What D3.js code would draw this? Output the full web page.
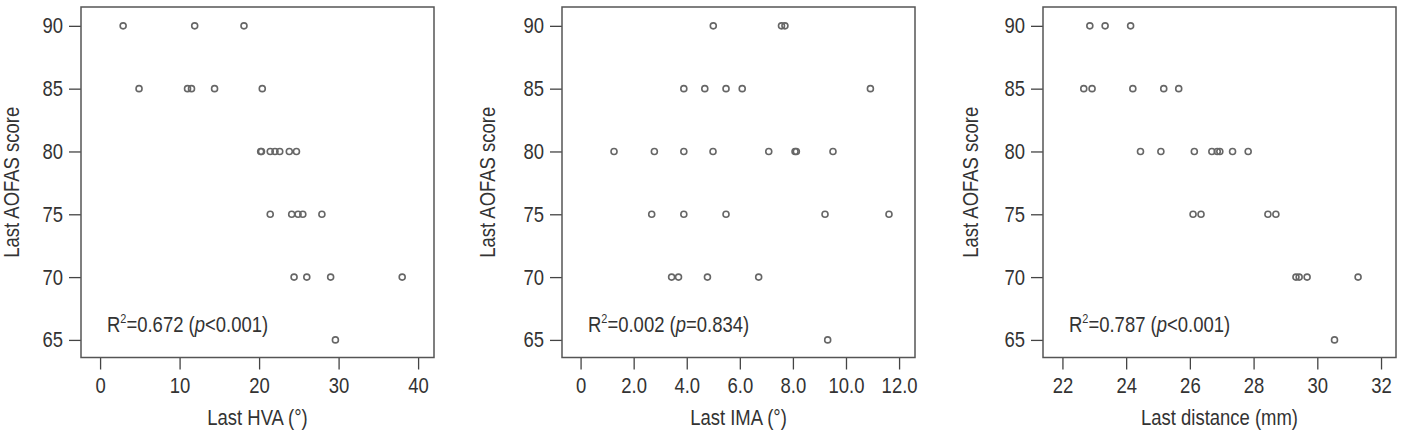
<!DOCTYPE html>
<html>
<head>
<meta charset="utf-8">
<script src="https://cdn.jsdelivr.net/npm/d3@7"></script>
<style>
  body { margin: 0; background: #fff; }
  svg text { font-family: "Liberation Sans", Arial, sans-serif; fill: #333; }
</style>
</head>
<body>
<div id="chart"></div>
<script>
// AOFAS score per point (shared y values for each panel)
const hvaX = [2.9, 11.9, 18.1, 4.9, 11.0, 11.5, 14.4, 20.4, 20.2, 20.3, 21.4, 22.0, 22.6, 23.8, 24.7,
  21.4, 24.1, 24.9, 25.5, 27.9, 24.4, 26.0, 29.0, 38.0, 29.6];
const hvaY = [90, 90, 90, 85, 85, 85, 85, 85, 80, 80, 80, 80, 80, 80, 80,
  75, 75, 75, 75, 75, 70, 70, 70, 70, 65];

const imaX = [5.0, 7.57, 7.7, 3.89, 4.68, 5.48, 6.09, 10.92, 1.26, 2.78, 3.89, 4.99, 7.09, 8.08, 8.13, 9.51,
  2.68, 3.89, 5.48, 9.21, 11.62, 3.43, 3.69, 4.78, 6.71, 9.31];
const imaY = [90, 90, 90, 85, 85, 85, 85, 85, 80, 80, 80, 80, 80, 80, 80, 80,
  75, 75, 75, 75, 75, 70, 70, 70, 70, 65];

const distX = [22.86, 23.34, 24.14, 22.67, 22.93, 24.21, 25.18, 25.65,
  24.45, 25.09, 26.14, 26.69, 26.86, 26.94, 27.34, 27.83,
  26.1, 26.35, 28.45, 28.7, 29.33, 29.43, 29.68, 31.28, 30.54];
const distY = [90, 90, 90, 85, 85, 85, 85, 85,
  80, 80, 80, 80, 80, 80, 80, 80,
  75, 75, 75, 75, 70, 70, 70, 70, 65];

const yTicks = [65, 70, 75, 80, 85, 90];
const hvaTicks = [0, 10, 20, 30, 40];
const imaTicks = [0, 2, 4, 6, 8, 10, 12];
const distTicks = [22, 24, 26, 28, 30, 32];

const xTitles = ["Last HVA (°)", "Last IMA (°)", "Last distance (mm)"];
const yTitle = "Last AOFAS score";
const r2Labels = [
  { r2: "0.672", op: "<", p: "0.001" },
  { r2: "0.002", op: "=", p: "0.834" },
  { r2: "0.787", op: "<", p: "0.001" }
];

const width = 1402, height = 430;
const sx = 0.84; // narrow the glyphs, the original uses a condensed face
const svg = d3.select("#chart").append("svg")
  .attr("width", width)
  .attr("height", height);

const panels = [
  { left: 81, titleX: -70, xs: hvaX, ys: hvaY, ticks: hvaTicks, domain: [-2.4, 42], fmt: d => d },
  { left: 562, titleX: -75, xs: imaX, ys: imaY, ticks: imaTicks, domain: [-0.7, 12.6], fmt: d => d === 0 ? "0" : d.toFixed(1) },
  { left: 1043, titleX: -73, xs: distX, ys: distY, ticks: distTicks, domain: [21.39, 32.47], fmt: d => d }
];

const plotW = 353;
const plotTop = 7, plotBottom = 357.5;

const y = d3.scaleLinear().domain([63.6, 91.5]).range([plotBottom, plotTop]);

function condense(sel) {
  sel.each(function() {
    const xx = +this.getAttribute("x") || 0;
    this.setAttribute("x", xx / sx);
    this.setAttribute("transform", `scale(${sx},1)`);
  });
}

panels.forEach((p, i) => {
  const g = svg.append("g").attr("transform", `translate(${p.left},0)`);
  const x = d3.scaleLinear().domain(p.domain).range([0, plotW]);

  // y axis
  const yAxis = g.append("g")
    .call(d3.axisLeft(y).tickValues(yTicks).tickSize(12).tickPadding(6));
  yAxis.select(".domain").remove();
  yAxis.selectAll("line").attr("stroke", "#444").attr("stroke-width", 1.3);
  yAxis.selectAll("text").attr("font-size", 22).attr("fill", "#333").call(condense);

  // x axis
  const xAxis = g.append("g")
    .attr("transform", `translate(0,${plotBottom})`)
    .call(d3.axisBottom(x).tickValues(p.ticks).tickFormat(p.fmt).tickSize(12).tickPadding(8));
  xAxis.select(".domain").remove();
  xAxis.selectAll("line").attr("stroke", "#444").attr("stroke-width", 1.3);
  xAxis.selectAll("text").attr("font-size", 22).attr("fill", "#333").call(condense);

  // frame
  g.append("rect")
    .attr("x", 0).attr("y", plotTop)
    .attr("width", plotW).attr("height", plotBottom - plotTop)
    .attr("fill", "none")
    .attr("stroke", "#555")
    .attr("stroke-width", 1.5);

  // points
  g.selectAll("circle")
    .data(p.xs.map((v, k) => [v, p.ys[k]]))
    .join("circle")
    .attr("cx", d => x(d[0]))
    .attr("cy", d => y(d[1]))
    .attr("r", 3)
    .attr("fill", "none")
    .attr("stroke", "#666")
    .attr("stroke-width", 1.6);

  // R² annotation
  const lab = r2Labels[i];
  const t = g.append("g").attr("transform", "translate(26,332)")
    .append("text")
    .attr("transform", `scale(${sx},1)`)
    .attr("font-size", 22);
  t.append("tspan").text("R");
  t.append("tspan").attr("font-size", 13).attr("dy", -9).text("2");
  t.append("tspan").attr("dy", 9).text(`=${lab.r2} (`);
  t.append("tspan").attr("font-style", "italic").text("p");
  t.append("tspan").text(`${lab.op}${lab.p})`);

  // x title
  g.append("text")
    .attr("transform", `translate(${plotW / 2},425) scale(${sx},1)`)
    .attr("text-anchor", "middle")
    .attr("font-size", 22)
    .text(xTitles[i]);

  // y title
  g.append("text")
    .attr("transform", `translate(${p.titleX + 8},${(plotTop + plotBottom) / 2}) rotate(-90) scale(${sx},1)`)
    .attr("text-anchor", "middle")
    .attr("font-size", 22)
    .text(yTitle);
});
</script>
</body>
</html>
